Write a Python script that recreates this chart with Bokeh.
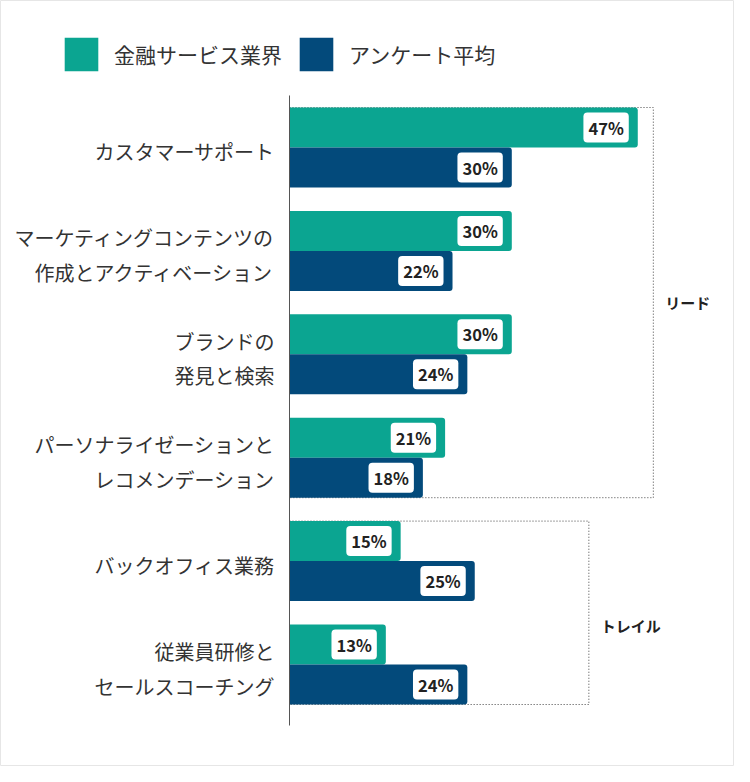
from bokeh.plotting import figure
from bokeh.models import Range1d, Legend, LegendItem
from bokeh.core.properties import value
from bokeh.embed import file_html
from bokeh.resources import INLINE

# data
categories = [
    "カスタマーサポート",
    "マーケティングコンテンツの\n作成とアクティベーション",
    "ブランドの\n発見と検索",
    "パーソナライゼーションと\nレコメンデーション",
    "バックオフィス業務",
    "従業員研修と\nセールスコーチング",
]
finance = [47, 30, 30, 21, 15, 13]
survey = [30, 22, 24, 18, 25, 24]
series_names = ["金融サービス業界", "アンケート平均"]
group_names = ["リード", "トレイル"]
group_rows = [(0, 3), (4, 5)]

TEAL = "#0ba591"
NAVY = "#034a7b"
FONT = "Noto Sans CJK JP"

# layout (pixels)
W, H = 734, 766
AXIS_PX = 289
ROW0_PX = 147
PX_PCT = 7.41
PX_ROW = 103.4
BAR_H = 40 / PX_ROW

rows = list(range(len(categories)))
y_fin = [r - BAR_H / 2 for r in rows]
y_sur = [r + BAR_H / 2 for r in rows]

p = figure(width=W, height=H,
           x_range=Range1d(-AXIS_PX / PX_PCT, (W - AXIS_PX) / PX_PCT),
           y_range=Range1d((H - ROW0_PX) / PX_ROW, -ROW0_PX / PX_ROW),
           x_axis_location=None, y_axis_location=None,
           output_backend="svg", toolbar_location=None, min_border=0)
p.grid.visible = False
p.outline_line_color = "#e6e6e6"
p.background_fill_color = "white"
p.border_fill_color = "white"

# dotted group boxes
box_right = [49.1, 40.4]
for (a, b), right, name, dy in zip(group_rows, box_right, group_names, [0, 13 / PX_ROW]):
    top = a - BAR_H
    bottom = b + BAR_H
    p.quad(left=0, right=right, top=top, bottom=bottom, fill_color=None,
           line_color="#444444", line_width=1, line_dash="1 2")
    p.text(x=[right], y=[(top + bottom) / 2 + dy], text=[name], x_offset=12,
           text_align="left", text_baseline="middle", text_font=value(FONT),
           text_font_size="15px", text_font_style="bold", text_color="#222222")

r_fin = p.hbar(y=y_fin, left=0, right=finance, height=BAR_H, fill_color=TEAL,
               line_color=None, border_radius=(0, 3, 3, 0))
r_sur = p.hbar(y=y_sur, left=0, right=survey, height=BAR_H, fill_color=NAVY,
               line_color=None, border_radius=(0, 3, 3, 0))

# vertical axis line
p.segment(x0=[0], x1=[0], y0=[-0.503], y1=[5.59], line_color="#555555", line_width=1)

# value labels
for vals, ys in [(finance, y_fin), (survey, y_sur)]:
    p.text(x=vals, y=ys, text=[f"{v}%" for v in vals], x_offset=-9,
           text_align="right", text_baseline="middle", text_font=value(FONT),
           text_font_size="16.5px", text_font_style="bold", text_color="#222222",
           background_fill_color="white", border_radius=4,
           padding=dict(left=5, right=5, top=3, bottom=3))

# category labels
p.text(x=[0] * len(rows), y=[r + 0.04 for r in rows], text=categories, x_offset=-15,
       text_align="right", text_baseline="middle", text_font=value(FONT),
       text_font_size="20px", text_color="#333333", text_line_height=1.2)

legend = Legend(items=[LegendItem(label=series_names[0], renderers=[r_fin]),
                       LegendItem(label=series_names[1], renderers=[r_sur])],
                orientation="horizontal", location=(60, 691),
                glyph_width=42, glyph_height=42, label_standoff=12, spacing=13,
                padding=0, margin=0, border_line_color=None, background_fill_alpha=0,
                label_text_font=FONT, label_text_font_size="21px",
                label_text_color="#333333", label_height=42)
p.add_layout(legend)

open("out.html", "w").write(file_html(p, INLINE))
